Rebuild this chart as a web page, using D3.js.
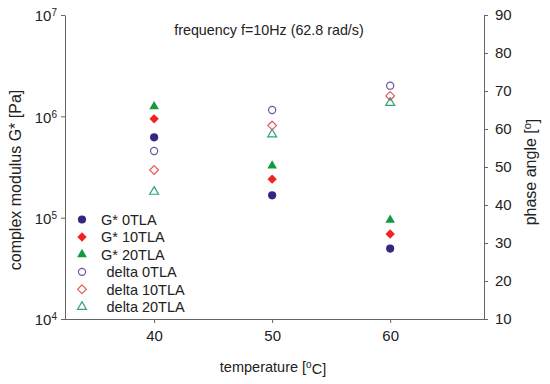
<!DOCTYPE html>
<html>
<head>
<meta charset="utf-8">
<script src="https://d3js.org/d3.v7.min.js"></script>
<style>
  body { margin: 0; background: #fff; }
  text { font-family: "Liberation Sans", Arial, sans-serif; fill: #222; }
</style>
</head>
<body>
<svg width="550" height="384"></svg>
<script>
// temperatures [°C]
var temps = [40, 50, 60];
// complex modulus G* [Pa]
var gStar0 = [6.2e5, 1.66e5, 4.95e4];
var gStar10 = [9.45e5, 2.4e5, 6.9e4];
var gStar20 = [1.25e6, 3.25e5, 9.5e4];
// phase angle delta [°]
var delta0 = [54.2, 65.0, 71.4];
var delta10 = [49.2, 60.9, 68.7];
var delta20 = [43.5, 58.6, 66.9];

var xTicks = [40, 50, 60];
var yLeftTicks = [1e4, 1e5, 1e6, 1e7];
var yRightTicks = [10, 20, 30, 40, 50, 60, 70, 80, 90];

var series = [
  { name: "G* 0TLA", values: gStar0, axis: "left", shape: "circle", fill: "#3a2482", stroke: "none" },
  { name: "G* 10TLA", values: gStar10, axis: "left", shape: "diamond", fill: "#f0241f", stroke: "none" },
  { name: "G* 20TLA", values: gStar20, axis: "left", shape: "triangle", fill: "#139a3c", stroke: "none" },
  { name: "delta 0TLA", values: delta0, axis: "right", shape: "circle", fill: "none", stroke: "#6656a0" },
  { name: "delta 10TLA", values: delta10, axis: "right", shape: "diamond", fill: "none", stroke: "#e8585a" },
  { name: "delta 20TLA", values: delta20, axis: "right", shape: "triangle", fill: "none", stroke: "#2fa574" }
];

var svg = d3.select("svg");
var mLeft = 65, mRight = 484, mTop = 15, mBottom = 319;

var x = d3.scaleLinear().domain([32.45, 67.95]).range([mLeft, mRight]);
var yL = d3.scaleLog().domain([1e4, 1e7]).range([mBottom, mTop]);
var yR = d3.scaleLinear().domain([10, 90]).range([mBottom, mTop]);

var squareDiamond = {
  draw: function(ctx, size) {
    var r = Math.sqrt(size / 2);
    ctx.moveTo(0, -r); ctx.lineTo(r, 0); ctx.lineTo(0, r); ctx.lineTo(-r, 0); ctx.closePath();
  }
};

function symbolPath(shape, filled) {
  var type = shape == "circle" ? d3.symbolCircle : shape == "diamond" ? squareDiamond : d3.symbolTriangle;
  var size;
  if (shape == "circle") size = filled ? 52 : 40;
  else if (shape == "diamond") size = filled ? 44 : 38;
  else size = filled ? 40 : 34;
  return d3.symbol().type(type).size(size)();
}

var axisColor = "#666";

// bottom axis
var gx = svg.append("g").attr("transform", "translate(0," + mBottom + ")")
  .call(d3.axisBottom(x).tickValues(xTicks).tickSize(4).tickPadding(7).tickSizeOuter(0));
gx.select(".domain").attr("stroke", axisColor).attr("d", "M" + mLeft + ",0.5H" + mRight);
gx.selectAll(".tick line").attr("stroke", axisColor);
gx.selectAll(".tick text").style("font-size", "15px").attr("fill", "#222");

// left axis (log, superscript labels)
var gl = svg.append("g").attr("transform", "translate(" + mLeft + ",0)")
  .call(d3.axisLeft(yL).tickValues(yLeftTicks).tickSize(4).tickSizeOuter(0).tickFormat(""));
gl.select(".domain").attr("stroke", axisColor);
gl.selectAll(".tick line").attr("stroke", axisColor);
gl.selectAll(".tick").each(function(d) {
  var t = d3.select(this).append("text").attr("x", -8).attr("dy", "0.38em")
    .attr("text-anchor", "end").style("font-size", "15px");
  t.append("tspan").text("10");
  t.append("tspan").attr("dy", "-0.5em").style("font-size", "10px").text(Math.round(Math.log10(d)));
});

// right axis
var gr = svg.append("g").attr("transform", "translate(" + mRight + ",0)")
  .call(d3.axisRight(yR).tickValues(yRightTicks).tickSize(4).tickPadding(7).tickSizeOuter(0));
gr.select(".domain").attr("stroke", axisColor);
gr.selectAll(".tick line").attr("stroke", axisColor);
gr.selectAll(".tick text").style("font-size", "15px").attr("fill", "#222");

// axis titles
svg.append("text").attr("transform", "translate(21,180) rotate(-90)")
  .attr("text-anchor", "middle").style("font-size", "16px").text("complex modulus G* [Pa]");
var rt = svg.append("text").attr("transform", "translate(536,172) rotate(-90)")
  .attr("text-anchor", "middle").style("font-size", "16px");
rt.append("tspan").text("phase angle [");
rt.append("tspan").attr("dy", "-0.45em").style("font-size", "11px").text("o");
rt.append("tspan").attr("dy", "0.45em").text("]");
var bt = svg.append("text").attr("x", 273).attr("y", 372)
  .attr("text-anchor", "middle").style("font-size", "14.5px");
bt.append("tspan").text("temperature [");
bt.append("tspan").attr("dy", "-0.45em").style("font-size", "10px").text("o");
bt.append("tspan").attr("dy", "0.45em").text("C]");

svg.append("text").attr("x", 269).attr("y", 35).attr("text-anchor", "middle")
  .style("font-size", "14.3px").text("frequency f=10Hz (62.8 rad/s)");

// points
series.forEach(function(s) {
  var yS = s.axis == "left" ? yL : yR;
  svg.append("g").selectAll("path").data(s.values).enter().append("path")
    .attr("d", symbolPath(s.shape, s.fill != "none"))
    .attr("transform", function(d, i) { return "translate(" + x(temps[i]) + "," + yS(d) + ")"; })
    .attr("fill", s.fill)
    .attr("stroke", s.stroke)
    .attr("stroke-width", 1.2);
});

// legend
var lg = svg.append("g");
series.forEach(function(s, i) {
  var yy = 219.5 + i * 17.45;
  lg.append("path").attr("d", symbolPath(s.shape, s.fill != "none"))
    .attr("transform", "translate(82," + yy + ")")
    .attr("fill", s.fill).attr("stroke", s.stroke).attr("stroke-width", 1.2);
  lg.append("text").attr("x", s.axis == "left" ? 101 : 106.5).attr("y", yy).attr("dy", "0.36em")
    .style("font-size", "14.5px").text(s.name);
});
</script>
</body>
</html>
